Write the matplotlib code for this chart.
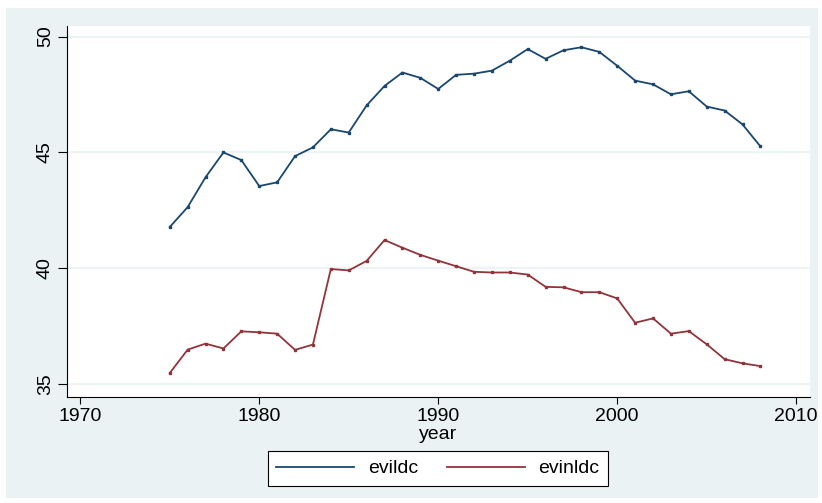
import matplotlib
matplotlib.use("Agg")
import matplotlib.pyplot as plt
from matplotlib.patches import Rectangle

years = list(range(1975, 2009))
evildc = [41.78, 42.64, 43.93, 45.00, 44.67, 43.55, 43.71, 44.84, 45.22, 46.00,
          45.86, 47.03, 47.87, 48.45, 48.22, 47.74, 48.35, 48.40, 48.53, 48.96,
          49.46, 49.04, 49.41, 49.54, 49.34, 48.74, 48.10, 47.94, 47.51, 47.64,
          46.98, 46.81, 46.21, 45.26]
evinldc = [35.48, 36.49, 36.75, 36.54, 37.28, 37.24, 37.18, 36.48, 36.71, 39.97,
           39.91, 40.32, 41.22, 40.89, 40.58, 40.33, 40.09, 39.85, 39.82, 39.82,
           39.73, 39.20, 39.18, 38.97, 38.97, 38.70, 37.65, 37.84, 37.18, 37.29,
           36.72, 36.08, 35.90, 35.78]
xticks = [1970, 1980, 1990, 2000, 2010]
yticks = [35, 40, 45, 50]
series_names = ["evildc", "evinldc"]

plt.rcParams['font.family'] = ['Liberation Sans', 'DejaVu Sans']

W, H = 822, 503
fig = plt.figure(figsize=(W / 100, H / 100), dpi=100)
fig.patch.set_facecolor('white')
bg = '#EAF2F3'
fig.patches.append(Rectangle((6 / W, 1 - 498 / H), (818 - 6) / W, (498 - 8) / H,
                             transform=fig.transFigure, facecolor=bg,
                             edgecolor='none', zorder=-10))

left, right, top, bottom = 67, 810, 25.7, 396.7
ax = fig.add_axes([left / W, 1 - bottom / H, (right - left) / W, (bottom - top) / H])
ax.set_zorder(1)
ax.set_facecolor('white')

navy = '#1A476F'
maroon = '#90353B'
ax.plot(years, evildc, color=navy, lw=1.3, marker='s', ms=1.5, label=series_names[0], zorder=3)
ax.plot(years, evinldc, color=maroon, lw=1.3, marker='s', ms=1.5, label=series_names[1], zorder=3)

ax.set_xlim(1969.26, 2010.77)
ax.set_ylim(34.46, 50.47)
ax.set_xticks(xticks)
ax.set_yticks(yticks)
ax.set_yticklabels([str(v) for v in yticks], rotation=90, va='center')
ax.grid(axis='y', color=bg, lw=1.2)
ax.set_axisbelow(True)
for s in ['top', 'right']:
    ax.spines[s].set_visible(False)
for s in ['left', 'bottom']:
    ax.spines[s].set_color('black')
    ax.spines[s].set_linewidth(0.8)
ax.tick_params(axis='x', length=5, width=0.8, labelsize=14, pad=3)
ax.tick_params(axis='y', length=6.5, width=0.8, labelsize=14, pad=3)
ax.set_xlabel('year', fontsize=14, labelpad=1)

leg = fig.legend(loc='center', bbox_to_anchor=(438 / W, 1 - 468.5 / H), ncol=2,
                 fontsize=14, frameon=True, fancybox=False, framealpha=1,
                 handlelength=4.0, columnspacing=1.5, handletextpad=0.7, borderpad=0.45)
leg.get_frame().set_edgecolor('black')
leg.get_frame().set_facecolor('white')
leg.get_frame().set_linewidth(0.8)
for h in leg.legend_handles:
    h.set_marker('')
    h.set_linewidth(1.3)

fig.savefig('out.png', dpi=100, facecolor=fig.get_facecolor())
